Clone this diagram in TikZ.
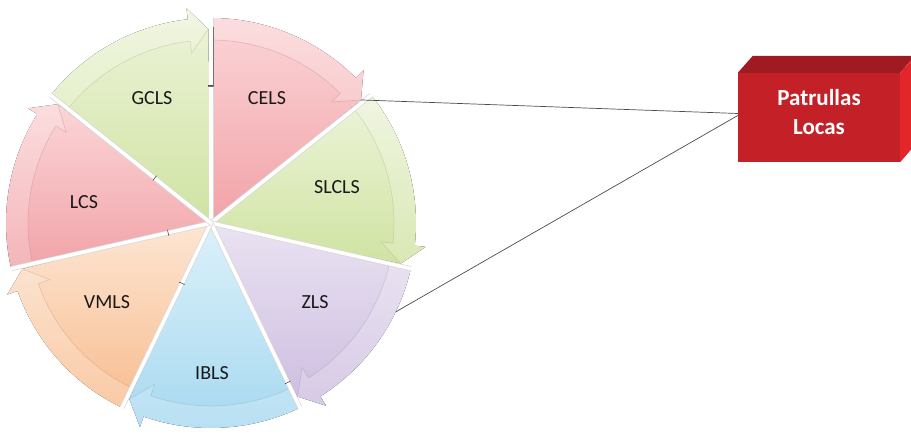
\documentclass[tikz,border=0pt]{standalone}
\usepackage{fontspec}
\setmainfont{Carlito}
\definecolor{pinkT}{HTML}{FBD5D7}
\definecolor{pinkB}{HTML}{F1A3A8}
\definecolor{greenT}{HTML}{EDF4DA}
\definecolor{greenB}{HTML}{D0E3A2}
\definecolor{lilacT}{HTML}{EAE3F2}
\definecolor{lilacB}{HTML}{CDBDE0}
\definecolor{blueT}{HTML}{DCF1FA}
\definecolor{blueB}{HTML}{A5D8F0}
\definecolor{orangeT}{HTML}{FDE6D3}
\definecolor{orangeB}{HTML}{F8BD90}
\definecolor{boxfront}{HTML}{C42027}
\definecolor{boxtop}{HTML}{A01B21}
\definecolor{boxside}{HTML}{E3262A}
\begin{document}
\begin{tikzpicture}[x=1pt,y=1pt,
  rim/.style={draw=#1!70!black, draw opacity=0.3, line width=0.6pt},
  lbl/.style={font=\fontsize{20}{24}\selectfont, text=black!90},
  link/.style={draw=black!70, line width=0.7pt}]
\useasboundingbox (0,0) rectangle (911,437);
\begin{scope}[shift={(211,214)}]
\foreach \k/\ct/\cb/\nm in {0/pinkT/pinkB/cels,1/greenT/greenB/slcls,2/lilacT/lilacB/zls,3/blueT/blueB/ibls,4/orangeT/orangeB/vmls,5/pinkT/pinkB/lcs,6/greenT/greenB/gcls}{
  \pgfmathsetmacro\segs{90-\k*360/7}
  \pgfmathsetmacro\sege{\segs-360/7}
  \pgfmathsetmacro\segh{\sege+6.5}
  \pgfmathsetmacro\segt{\sege+0.8}
  \fill[top color=\ct, bottom color=\cb] (0,0) -- (\segs:205) arc[start angle=\segs, end angle=\segh, radius=205] -- (\segh:216) -- (\segt:194) -- cycle;
  \fill[white, opacity=0.2] (\segs:183) arc[start angle=\segs, end angle=\segh, radius=183] -- (\segh:171) -- (\segt:194) -- (\segh:216) -- (\segh:205) arc[start angle=\segh, end angle=\segs, radius=205] -- cycle;
  \draw[rim=\cb] (\segs:183) arc[start angle=\segs, end angle=\segh, radius=183] -- (\segh:171) -- (\segt:194);
  \coordinate (\nm-tip) at (\segt:194);
}
\foreach \k in {0,...,6}{
  \draw[gray!30, line width=5pt] (0,0) -- ({90-\k*360/7}:205);
  \draw[white, line width=3.5pt] (0,0) -- ({90-\k*360/7}:206);
}
\foreach \a/\r in {90/138,141.43/72,-167.14/44,-115.71/67,-64.29/177}
  \draw[black!70, line width=0.6pt, rotate=\a] (\r,-3) -- (\r,3);
\draw[black!55, line width=0.5pt] (-3,137) -- (2,137) -- (2,196);
\coordinate (zls-rim) at (-25.7:205);
\node[lbl] (cels) at (56,125) {CELS};
\node[lbl] (slcls) at (126,36) {SLCLS};
\node[lbl] (zls) at (104,-79) {ZLS};
\node[lbl] (ibls) at (1,-150) {IBLS};
\node[lbl] (vmls) at (-104,-79) {VMLS};
\node[lbl] (lcs) at (-127,21) {LCS};
\node[lbl] (gcls) at (-59,125) {GCLS};
\end{scope}
\node[fill=boxfront, minimum width=162pt, minimum height=89pt, inner sep=0pt] (pl) at (819,319.5) {};
\fill[boxtop] (pl.north west) -- ++(15,17) -- ++(162,0) -- (pl.north east) -- cycle;
\fill[boxside] (pl.north east) -- ++(15,17) -- ++(0,-89) -- (pl.south east) -- cycle;
\node[font=\bfseries\fontsize{23}{29}\selectfont, text=white, align=center] (pltext) at ([yshift=5pt]pl.center) {Patrullas\\Locas};
\draw[link] (cels-tip) -- ([yshift=4pt]pl.west);
\draw[link] (zls-rim) -- ([yshift=2pt]pl.west);
\end{tikzpicture}
\end{document}
